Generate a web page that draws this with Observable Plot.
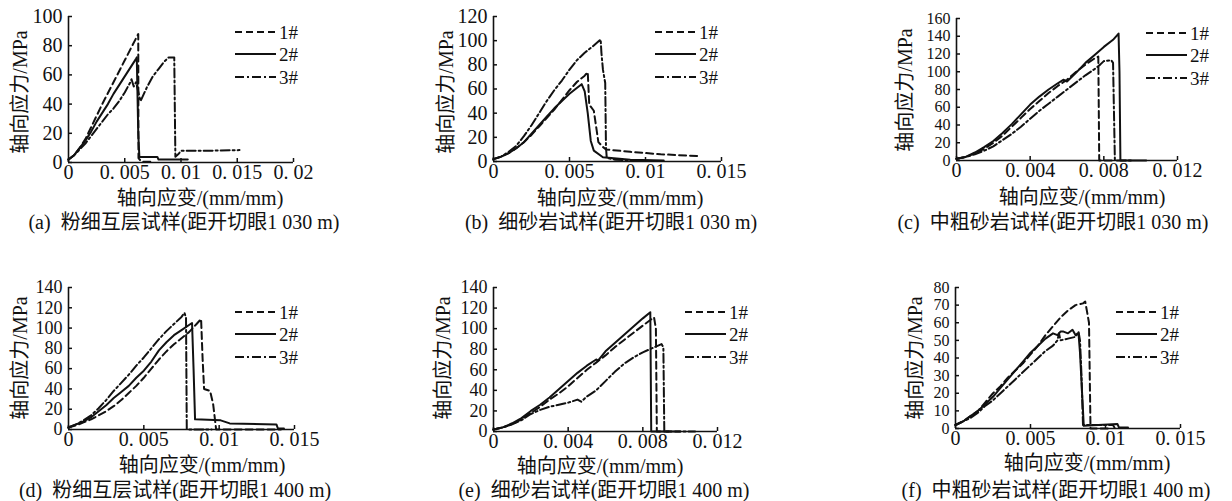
<!DOCTYPE html>
<html><head><meta charset="utf-8">
<script src="https://cdn.jsdelivr.net/npm/d3@7"></script>
<script src="https://cdn.jsdelivr.net/npm/@observablehq/plot@0.6"></script>
<style>
body{margin:0;background:#fff;}
#wrap{position:relative;width:1232px;height:501px;overflow:hidden;background:#fff;}
.p{position:absolute;}
.lab{position:absolute;white-space:pre;font-family:"Liberation Serif","Noto Sans CJK SC",serif;color:#111;line-height:1;}
</style></head><body><div id="wrap"></div>
<script>
// ---------- data ----------
const seriesNames = ["1#", "2#", "3#"];
const xLabel = "轴向应变/(mm/mm)";
const yLabel = "轴向应力/MPa";
const captions = [
  "(a)  粉细互层试样(距开切眼1 030 m)",
  "(b)  细砂岩试样(距开切眼1 030 m)",
  "(c)  中粗砂岩试样(距开切眼1 030 m)",
  "(d)  粉细互层试样(距开切眼1 400 m)",
  "(e)  细砂岩试样(距开切眼1 400 m)",
  "(f)  中粗砂岩试样(距开切眼1 400 m)"
];
const xTicksA = [0, 0.005, 0.01, 0.015, 0.02];
const xTicks15 = [0, 0.005, 0.01, 0.015];
const xTicks12 = [0, 0.004, 0.008, 0.012];
const yTicks100 = [0, 20, 40, 60, 80, 100];
const yTicks120 = [0, 20, 40, 60, 80, 100, 120];
const yTicks140 = [0, 20, 40, 60, 80, 100, 120, 140];
const yTicks160 = [0, 20, 40, 60, 80, 100, 120, 140, 160];
const yTicks80 = [0, 10, 20, 30, 40, 50, 60, 70, 80];

// (a)
const a1 = [[0,2],[0.0005,5],[0.001,10],[0.0015,16],[0.002,24],[0.0025,32],[0.003,40],[0.004,55],[0.005,70],[0.0056,79],[0.0062,88],[0.00622,3],[0.0065,0.5],[0.0075,0.5]];
const a2 = [[0,2],[0.0005,5],[0.001,10],[0.0015,15],[0.002,21],[0.0025,28],[0.003,34],[0.0035,40],[0.004,47],[0.0045,53],[0.005,59],[0.0055,65],[0.006,71],[0.00607,72],[0.0062,20],[0.0063,3.8],[0.0079,3.8],[0.008,2],[0.0106,2]];
const a3 = [[0,2],[0.0005,5],[0.001,9],[0.0015,13],[0.002,18],[0.0025,23],[0.003,28],[0.0035,33],[0.004,37],[0.0045,42],[0.005,48],[0.0055,55],[0.0056,57],[0.0058,52],[0.006,55],[0.0064,42],[0.007,52],[0.0075,59],[0.008,64],[0.0085,69],[0.0089,72],[0.0094,72],[0.0095,4],[0.0098,6],[0.01,8],[0.012,8],[0.0152,8.5]];
// (b)
const b1 = [[0,2],[0.0005,4],[0.001,7],[0.0015,11],[0.002,16],[0.0025,22],[0.003,29],[0.0035,36],[0.004,43],[0.0045,51],[0.005,59],[0.0055,66],[0.006,71],[0.0062,74],[0.0063,47],[0.0066,42],[0.0069,16],[0.0072,12],[0.0074,10],[0.009,8],[0.011,6],[0.0135,4.5]];
const b2 = [[0,2],[0.0005,4],[0.001,7],[0.0015,11],[0.002,16],[0.0025,23],[0.003,30],[0.0035,37],[0.004,44],[0.0045,50],[0.005,56],[0.0055,61],[0.0058,64],[0.006,58],[0.0062,40],[0.0064,17],[0.0066,9],[0.0072,3.5],[0.009,1.5],[0.0112,0.8]];
const b3 = [[0,2],[0.0005,4],[0.001,8],[0.0015,13],[0.002,21],[0.0025,30],[0.003,40],[0.0035,50],[0.004,59],[0.0045,67],[0.005,76],[0.0055,84],[0.006,90],[0.0065,95],[0.00705,101],[0.0071,90],[0.0072,76],[0.00735,65],[0.0074,12],[0.00745,3],[0.008,1.5],[0.009,1],[0.0105,0.5]];
// (c)
const c1 = [[0,2],[0.0005,4],[0.001,8],[0.0015,13],[0.002,20],[0.0025,28],[0.003,38],[0.0035,48],[0.004,58],[0.0045,67],[0.005,76],[0.0055,84],[0.006,91],[0.0065,100],[0.007,108],[0.0075,115],[0.0077,117],[0.00775,0],[0.0085,0]];
const c2 = [[0,2],[0.0005,4],[0.001,9],[0.0015,15],[0.002,22],[0.0025,31],[0.003,41],[0.0035,52],[0.004,63],[0.0045,72],[0.005,80],[0.0055,87],[0.0058,91],[0.006,89],[0.0065,99],[0.007,110],[0.0075,119],[0.008,128],[0.0085,136],[0.0088,143],[0.00885,100],[0.0089,0],[0.0103,0]];
const c3 = [[0,2],[0.0005,4],[0.001,7],[0.0015,11],[0.002,16],[0.0025,23],[0.003,30],[0.0035,38],[0.004,47],[0.0045,56],[0.005,64],[0.0055,72],[0.006,80],[0.0065,88],[0.007,96],[0.0075,103],[0.0078,108],[0.008,112],[0.0084,113],[0.0085,110],[0.0086,0],[0.0095,0]];
// (d)
const d1 = [[0,2],[0.0005,4],[0.001,7],[0.0015,10],[0.002,14],[0.0025,18],[0.003,23],[0.0035,29],[0.004,36],[0.0045,43],[0.005,51],[0.0055,60],[0.006,69],[0.0065,77],[0.007,84],[0.0075,90],[0.008,96],[0.0085,104],[0.0088,109],[0.0089,70],[0.009,40],[0.0094,38],[0.0096,25],[0.0098,0],[0.0141,0]];
const d2 = [[0,2],[0.0005,5],[0.001,8],[0.0015,12],[0.002,18],[0.0025,24],[0.003,31],[0.0035,37],[0.004,43],[0.0045,51],[0.005,58],[0.0055,67],[0.006,78],[0.0065,86],[0.007,93],[0.0075,98],[0.008,103],[0.0082,105],[0.0083,60],[0.0084,10],[0.0101,9],[0.0107,6],[0.0138,5],[0.0139,1],[0.0143,1]];
const d3 = [[0,2],[0.0005,5],[0.001,9],[0.0015,14],[0.002,21],[0.0025,29],[0.003,38],[0.0035,46],[0.004,54],[0.0045,63],[0.005,71],[0.0055,80],[0.006,89],[0.0065,97],[0.007,104],[0.0075,111],[0.0077,115],[0.0078,110],[0.00785,0],[0.0095,0]];
// (e)
const e1 = [[0,2],[0.0005,4],[0.001,7],[0.0015,12],[0.002,18],[0.0025,24],[0.003,31],[0.0035,37],[0.004,44],[0.0045,52],[0.005,60],[0.0055,67],[0.006,74],[0.0065,82],[0.007,89],[0.0075,96],[0.008,103],[0.0086,111],[0.0087,100],[0.00875,0],[0.01,0]];
const e2 = [[0,2],[0.0005,4],[0.001,8],[0.0015,13],[0.002,20],[0.0025,26],[0.003,33],[0.0035,41],[0.004,49],[0.0045,57],[0.005,64],[0.0055,70],[0.0056,69],[0.006,78],[0.0065,86],[0.007,94],[0.0075,102],[0.008,110],[0.0084,116],[0.00845,0],[0.0095,0]];
const e3 = [[0,2],[0.0005,4],[0.001,7],[0.0015,11],[0.002,17],[0.0025,21],[0.003,24],[0.0035,26],[0.004,28],[0.0045,31],[0.0047,29],[0.005,34],[0.0055,40],[0.006,49],[0.0065,58],[0.007,66],[0.0075,72],[0.008,77],[0.0085,81],[0.009,85],[0.0091,82],[0.00915,0],[0.0108,0]];
// (f)
const f1 = [[0,2],[0.0005,4],[0.001,7],[0.0015,10],[0.002,15],[0.0025,20],[0.003,24],[0.0035,29],[0.004,33],[0.0045,37],[0.005,42],[0.0055,47],[0.006,53],[0.0065,58],[0.007,63],[0.0075,67],[0.008,70],[0.0085,71],[0.00865,72],[0.0089,60],[0.009,0],[0.0103,0]];
const f2 = [[0,2],[0.0005,4],[0.001,7],[0.0015,10],[0.002,14],[0.0025,18],[0.003,23],[0.0035,28],[0.004,33],[0.0045,38],[0.005,43],[0.0055,47],[0.006,51],[0.0065,54],[0.0068,53],[0.007,55],[0.0072,55],[0.0075,54],[0.0078,56],[0.008,53],[0.0082,54],[0.0083,43],[0.0085,10],[0.00855,1.5],[0.0108,2.5],[0.0109,0.5],[0.0115,0.5]];
const f3 = [[0,2],[0.0005,4],[0.001,6],[0.0015,9],[0.002,13],[0.0025,16],[0.003,20],[0.0035,24],[0.004,28],[0.0045,32],[0.005,36],[0.0055,40],[0.006,44],[0.0065,47],[0.0068,50],[0.0069,54],[0.007,50],[0.0075,51],[0.008,52],[0.0082,55],[0.0083,50],[0.0084,30],[0.0085,2],[0.0105,2],[0.0106,0.5]];

// ---------- layout / style ----------
const dashes = ["7,4", null, "9,3,2,3"];
const panels = [
  {series:[a1,a2,a3], xmax:0.02,  xt:xTicksA, yt:yTicks100, yfs:20, fx0:68,  fx1:293,  fy0:16,  fy1:162, ylx:20,  yly:92,  xlx:200,  xly:198, cx:184, cy:222, lgx:235, lgy:[32,54,77]},
  {series:[b1,b2,b3], xmax:0.015, xt:xTicks15, yt:yTicks120, yfs:20, fx0:493, fx1:721,  fy0:16,  fy1:161, ylx:446, yly:92,  xlx:620,  xly:198, cx:611, cy:222, lgx:655, lgy:[32,54,77]},
  {series:[c1,c2,c3], xmax:0.012, xt:xTicks12, yt:yTicks160, yfs:16, fx0:956, fx1:1177, fy0:18,  fy1:160, ylx:905, yly:90,  xlx:1082, xly:197, cx:1053,cy:222, lgx:1146,lgy:[33,55,78]},
  {series:[d1,d2,d3], xmax:0.015, xt:xTicks15, yt:yTicks140, yfs:18, fx0:68,  fx1:294,  fy0:287, fy1:429, ylx:20,  yly:358, xlx:202,  xly:465, cx:175, cy:490, lgx:235, lgy:[312,334,357]},
  {series:[e1,e2,e3], xmax:0.012, xt:xTicks12, yt:yTicks140, yfs:18, fx0:493, fx1:717,  fy0:287, fy1:431, ylx:443, yly:358, xlx:600,  xly:466, cx:604, cy:490, lgx:685, lgy:[312,334,357]},
  {series:[f1,f2,f3], xmax:0.015, xt:xTicks15, yt:yTicks80,  yfs:16, fx0:955, fx1:1180, fy0:287, fy1:428, ylx:915, yly:358, xlx:1087, xly:463, cx:1056,cy:490, lgx:1116,lgy:[312,334,357]}
];
const fmt = d => d === 0 ? "0" : "0. " + String(d).slice(2);
const ink = "#111";
const wrap = document.getElementById("wrap");

function addLabel(text, x, y, size, rotate) {
  const el = document.createElement("div");
  el.className = "lab";
  el.textContent = text;
  el.style.fontSize = size + "px";
  el.style.left = x + "px";
  el.style.top = y + "px";
  el.style.transform = "translate(-50%,-50%)" + (rotate ? " rotate(-90deg)" : "");
  wrap.appendChild(el);
}

panels.forEach((p, i) => {
  const mL = 60, mT = 12, mR = 30, mB = 36;
  const fw = p.fx1 - p.fx0, fh = p.fy1 - p.fy0;
  const chart = Plot.plot({
    width: fw + mL + mR, height: fh + mT + mB,
    marginLeft: mL, marginTop: mT, marginRight: mR, marginBottom: mB,
    style: {fontFamily: "Liberation Serif, serif", fontSize: "20px", color: ink, background: "transparent", overflow: "visible"},
    x: {domain: [0, p.xmax]},
    y: {domain: [0, p.yt[p.yt.length - 1]]},
    marks: [
      Plot.axisX(p.xt, {tickSize: -4, tickPadding: 6, tickFormat: fmt, label: null, fontSize: 20, strokeWidth: 1.5}),
      Plot.axisY(p.yt, {tickSize: -4, tickPadding: 10, label: null, fontSize: p.yfs, strokeWidth: 1.5}),
      Plot.ruleY([0], {stroke: ink, strokeWidth: 1.6}),
      Plot.ruleX([0], {stroke: ink, strokeWidth: 1.6}),
      ...p.series.map((s, k) => Plot.line(s, {x: d => d[0], y: d => d[1], stroke: ink, strokeWidth: 2, strokeDasharray: dashes[k]}))
    ]
  });
  chart.classList.add("p");
  chart.style.left = (p.fx0 - mL) + "px";
  chart.style.top = (p.fy0 - mT) + "px";
  wrap.appendChild(chart);

  addLabel(yLabel, p.ylx, p.yly, 20, true);
  addLabel(xLabel, p.xlx, p.xly, 20, false);
  addLabel(captions[i], p.cx, p.cy, 20, false);

  // legend
  const ns = "http://www.w3.org/2000/svg";
  const lg = document.createElementNS(ns, "svg");
  lg.setAttribute("width", 80); lg.setAttribute("height", 70);
  lg.style.position = "absolute";
  lg.style.left = p.lgx + "px";
  lg.style.top = (p.lgy[0] - 12) + "px";
  seriesNames.forEach((nm, k) => {
    const yy = p.lgy[k] - p.lgy[0] + 12;
    const ln = document.createElementNS(ns, "line");
    ln.setAttribute("x1", 0); ln.setAttribute("x2", 41);
    ln.setAttribute("y1", yy); ln.setAttribute("y2", yy);
    ln.setAttribute("stroke", ink); ln.setAttribute("stroke-width", 2);
    if (dashes[k]) ln.setAttribute("stroke-dasharray", dashes[k]);
    lg.appendChild(ln);
    const tx = document.createElementNS(ns, "text");
    tx.setAttribute("x", 44); tx.setAttribute("y", yy);
    tx.setAttribute("dy", "0.35em");
    tx.setAttribute("font-family", "Liberation Serif, serif");
    tx.setAttribute("font-size", 19);
    tx.setAttribute("fill", ink);
    tx.textContent = nm;
    lg.appendChild(tx);
  });
  wrap.appendChild(lg);
});
</script></body></html>
